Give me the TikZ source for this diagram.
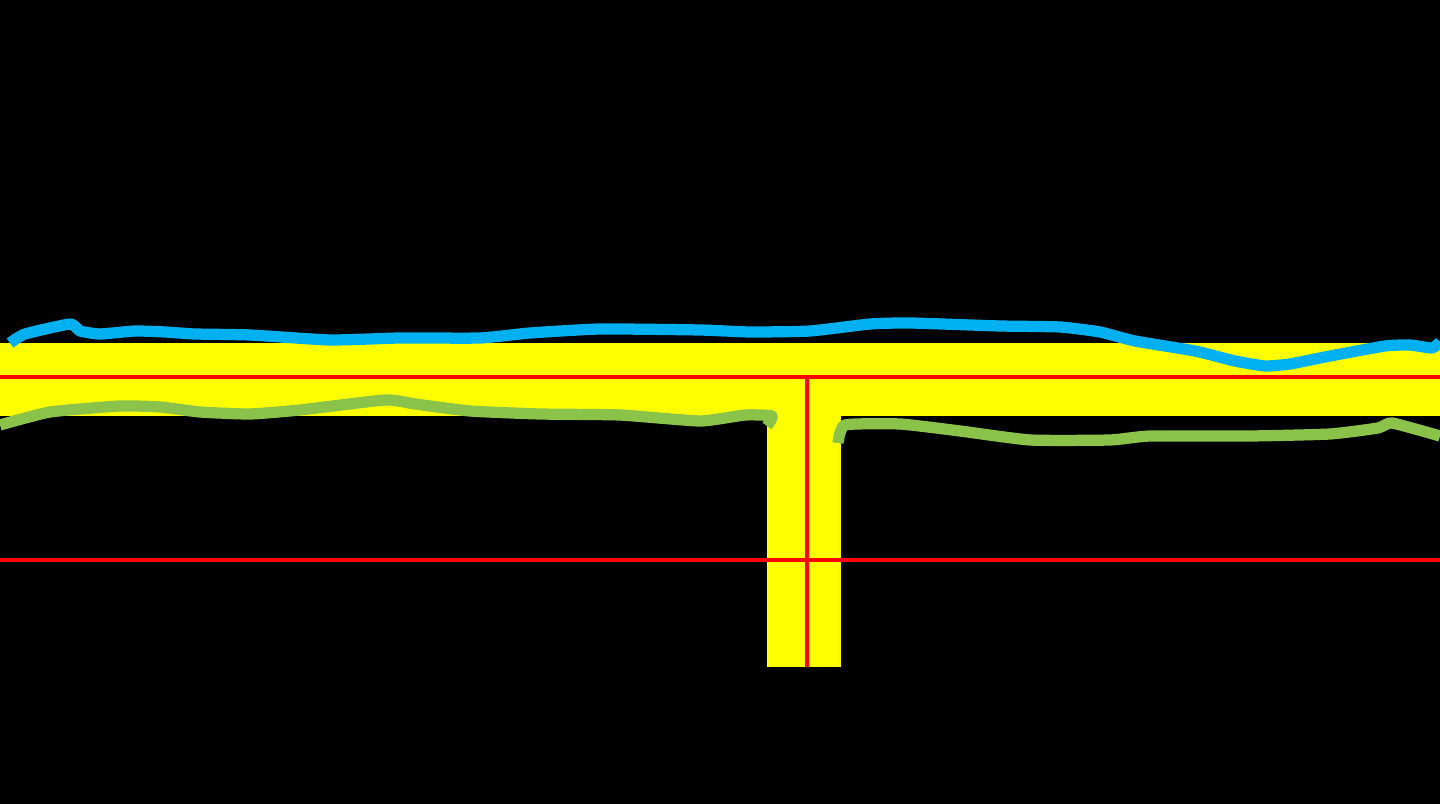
\documentclass[tikz,border=0pt]{standalone}
\usepackage{tikz}
\usetikzlibrary{calc}
\definecolor{roadyellow}{RGB}{255,255,0}
\definecolor{axisred}{RGB}{255,0,0}
\definecolor{edgeblue}{RGB}{0,176,240}
\definecolor{edgegreen}{RGB}{139,195,74}

\begin{document}
\begin{tikzpicture}[
  x=0.01cm, y=-0.01cm,
  bar/.style={fill=roadyellow, draw=none},
  axis/.style={draw=axisred, line width=0.9pt},
  trace/.style={line width=3.2pt, line join=round, line cap=butt},
  upper/.style={trace, draw=edgeblue},
  lower/.style={trace, draw=edgegreen}
]

% ======= Background =======
\fill[black] (0,0) rectangle (1440,804);
\useasboundingbox (0,0) rectangle (1440,804);

% ======= T shape =======
\path[bar] (0,343) rectangle (1440,416);
\path[bar] (767,416) rectangle (841,667);

% ======= Axes =======
\draw[axis] (0,377) -- (1440,377);
\draw[axis] (0,560) -- (1440,560);
\draw[axis] (807,377) -- (807,667);

% ======= Upper trace =======
\draw[upper] plot[smooth, tension=0.3] coordinates {
  (10,343) (25,334) (70,324) (80,331) (100,334) (135,331) (165,332)
  (195,334) (250,335) (330,340) (400,338) (480,338) (530,333)
  (600,329) (700,330) (750,332) (810,331) (870,324) (910,323)
  (1000,326) (1060,327) (1100,332) (1135,341) (1195,351)
  (1235,361) (1265,366) (1290,364) (1330,356) (1385,346)
  (1410,345) (1432,348) (1440,342)};

% ======= Lower trace, left =======
\draw[lower] plot[smooth, tension=0.3] coordinates {
  (0,425) (50,412) (120,406) (160,407) (200,412) (250,414)
  (300,410) (385,400) (415,404) (470,411) (540,414) (620,415)
  (700,421) (745,415) (772,416) (767,426)};

% ======= Lower trace, right =======
\draw[lower] plot[smooth, tension=0.3] coordinates {
  (838,443) (845,425) (900,424) (960,431) (1030,440) (1110,440)
  (1150,436) (1250,436) (1330,434) (1378,428) (1392,423) (1440,436)};

\end{tikzpicture}
\end{document}
